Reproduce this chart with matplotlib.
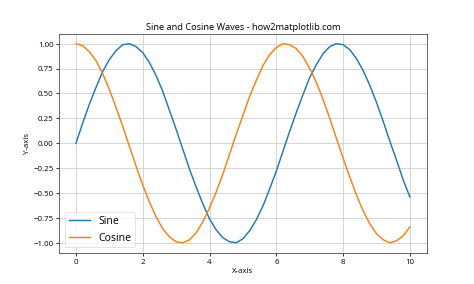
import matplotlib
matplotlib.use("Agg")
import matplotlib.pyplot as plt

plt.rcParams['font.family'] = ['Open Sans', 'DejaVu Sans']

x = [0.0, 0.2, 0.4, 0.6, 0.8, 1.0, 1.2, 1.4, 1.6, 1.8,
     2.0, 2.2, 2.4, 2.6, 2.8, 3.0, 3.2, 3.4, 3.6, 3.8,
     4.0, 4.2, 4.4, 4.6, 4.8, 5.0, 5.2, 5.4, 5.6, 5.8,
     6.0, 6.2, 6.4, 6.6, 6.8, 7.0, 7.2, 7.4, 7.6, 7.8,
     8.0, 8.2, 8.4, 8.6, 8.8, 9.0, 9.2, 9.4, 9.6, 9.8, 10.0]
sine = [0.00, 0.20, 0.39, 0.56, 0.72, 0.84, 0.93, 0.99, 1.00, 0.97,
        0.91, 0.81, 0.68, 0.52, 0.33, 0.14, -0.06, -0.26, -0.44, -0.61,
        -0.76, -0.87, -0.95, -0.99, -1.00, -0.96, -0.88, -0.77, -0.63, -0.46,
        -0.28, -0.08, 0.12, 0.31, 0.49, 0.66, 0.79, 0.90, 0.97, 1.00,
        0.99, 0.94, 0.85, 0.73, 0.58, 0.41, 0.22, 0.02, -0.17, -0.37, -0.54]
cosine = [1.00, 0.98, 0.92, 0.83, 0.70, 0.54, 0.36, 0.17, -0.03, -0.23,
          -0.42, -0.59, -0.74, -0.86, -0.94, -0.99, -1.00, -0.97, -0.90, -0.79,
          -0.65, -0.49, -0.31, -0.11, 0.09, 0.28, 0.47, 0.63, 0.78, 0.89,
          0.96, 1.00, 0.99, 0.95, 0.87, 0.75, 0.61, 0.44, 0.25, 0.05,
          -0.15, -0.34, -0.52, -0.68, -0.81, -0.91, -0.97, -1.00, -0.98, -0.93, -0.84]

fig, ax = plt.subplots(figsize=(10, 6), dpi=47.4)
ax.plot(x, sine, label='Sine', linewidth=2.2)
ax.plot(x, cosine, label='Cosine', linewidth=2.2)
ax.set_title('Sine and Cosine Waves - how2matplotlib.com', fontsize=14)
ax.set_xlabel('X-axis', fontsize=12)
ax.set_ylabel('Y-axis', fontsize=12)
ax.tick_params(labelsize=12, width=1.2, length=5)
for s in ax.spines.values():
    s.set_linewidth(1.3)
    s.set_color('#555555')
ax.grid(True, linewidth=1.2, color='#cccccc')
ax.legend(loc='lower left', fontsize=16)
fig.savefig('out.png', dpi=47.4)
